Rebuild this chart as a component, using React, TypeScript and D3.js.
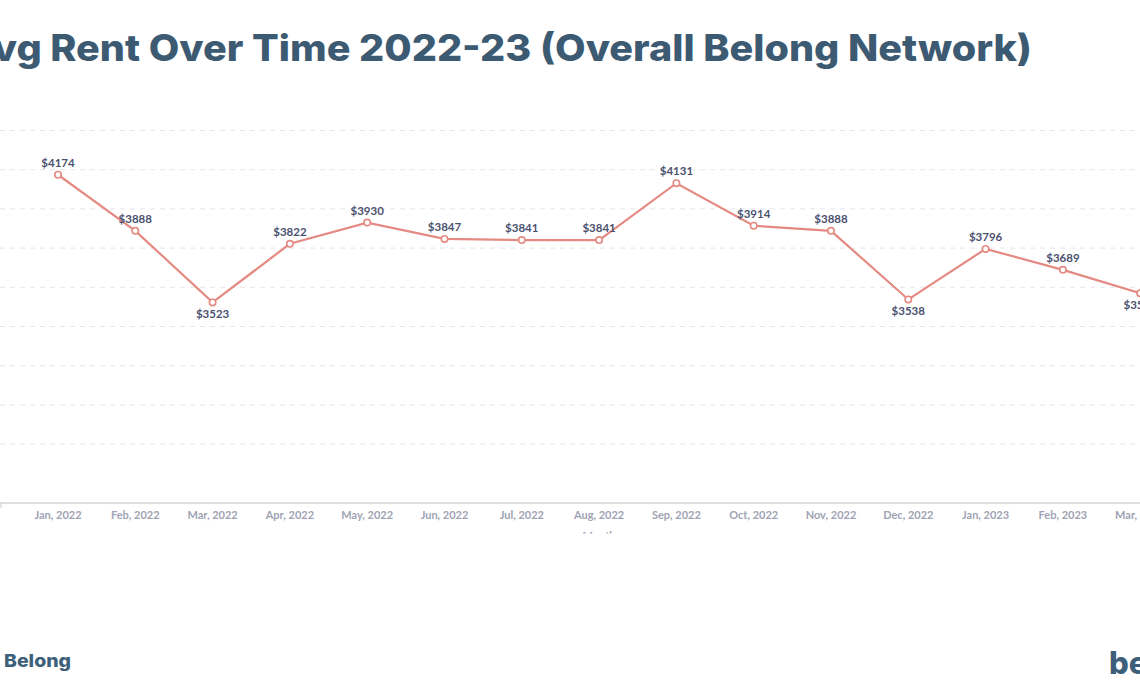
import React from "react";
import * as d3 from "d3";

const months = [
  "Jan, 2022", "Feb, 2022", "Mar, 2022", "Apr, 2022", "May, 2022", "Jun, 2022",
  "Jul, 2022", "Aug, 2022", "Sep, 2022", "Oct, 2022", "Nov, 2022", "Dec, 2022",
  "Jan, 2023", "Feb, 2023", "Mar, 2023",
];
const avgRent = [4174, 3888, 3523, 3822, 3930, 3847, 3841, 3841, 4131, 3914, 3888, 3538, 3796, 3689, 3570];
const gridTicks = [2800, 3000, 3200, 3400, 3600, 3800, 4000, 4200, 4400];

const W = 1140;
const H = 700;
const axisY = 503;

export default function App() {
  const x = d3.scalePoint<string>().domain(months).range([58, 58 + 14 * 77.3]);
  const y = d3.scaleLinear().domain([2500, 4500]).range([axisY, axisY - 2000 / 5.1]);
  const line = d3
    .line<number>()
    .x((_, i) => x(months[i]) as number)
    .y((d) => y(d));

  const isBelow = (i: number) => {
    const v = avgRent[i];
    const prev = i > 0 ? avgRent[i - 1] : Infinity;
    const next = i < avgRent.length - 1 ? avgRent[i + 1] : Infinity;
    return v < prev && v < next;
  };

  return (
    <svg
      width={W}
      height={H}
      style={{ position: "absolute", left: 0, top: 0, background: "#fff" }}
    >
      <defs>
        <clipPath id="monthClip">
          <rect x={0} y={0} width={W} height={533.5} />
        </clipPath>
      </defs>
      <rect x={0} y={0} width={W} height={H} fill="#fff" />
      <text
        x={-35}
        y={61}
        textLength={1067}
        lengthAdjust="spacingAndGlyphs"
        fontFamily="Inter, 'Open Sans', sans-serif"
        fontWeight={800}
        fontSize={37}
        fill="#3d5a73"
      >
        Avg Rent Over Time 2022-23 (Overall Belong Network)
      </text>

      {gridTicks.map((t) => (
        <line
          key={t}
          x1={0}
          x2={W}
          y1={y(t)}
          y2={y(t)}
          stroke="#e4e5ea"
          strokeWidth={1}
          strokeDasharray="5,5"
        />
      ))}

      <line x1={0} x2={W} y1={axisY} y2={axisY} stroke="#d4d6db" strokeWidth={1.5} />
      <line x1={1} x2={1} y1={axisY} y2={axisY + 5} stroke="#c9cbd1" strokeWidth={1} />

      {months.map((m) => (
        <text
          key={m}
          x={x(m)}
          y={519}
          textAnchor="middle"
          fontFamily="Lato, sans-serif"
          fontWeight={700}
          fontSize={11}
          fill="#a0a3b3"
        >
          {m}
        </text>
      ))}
      <text
        x={599}
        y={540}
        textAnchor="middle"
        fontFamily="Lato, sans-serif"
        fontWeight={700}
        fontSize={11}
        fill="#a0a3b3"
        clipPath="url(#monthClip)"
      >
        Month
      </text>

      <path d={line(avgRent) || ""} fill="none" stroke="#e58a82" strokeWidth={2.2} />
      {avgRent.map((v, i) => (
        <circle
          key={i}
          cx={x(months[i])}
          cy={y(v)}
          r={3.2}
          fill="#fff"
          stroke="#e58a82"
          strokeWidth={1.6}
        />
      ))}
      {avgRent.map((v, i) => (
        <text
          key={"l" + i}
          x={x(months[i])}
          y={isBelow(i) ? y(v) + 16 : y(v) - 8}
          textAnchor="middle"
          fontFamily="Lato, sans-serif"
          fontWeight={700}
          fontSize={11.5}
          fill="#4b5270"
        >
          {"$" + v}
        </text>
      ))}

      <text
        x={4}
        y={667}
        textLength={67}
        lengthAdjust="spacingAndGlyphs"
        fontFamily="Inter, 'Open Sans', sans-serif"
        fontWeight={800}
        fontSize={18}
        fill="#3d5f7a"
      >
        Belong
      </text>
      <text
        x={1109}
        y={674}
        fontFamily="Inter, 'Open Sans', sans-serif"
        fontWeight={800}
        fontSize={31}
        fill="#3d5f7a"
      >
        belong
      </text>
    </svg>
  );
}
